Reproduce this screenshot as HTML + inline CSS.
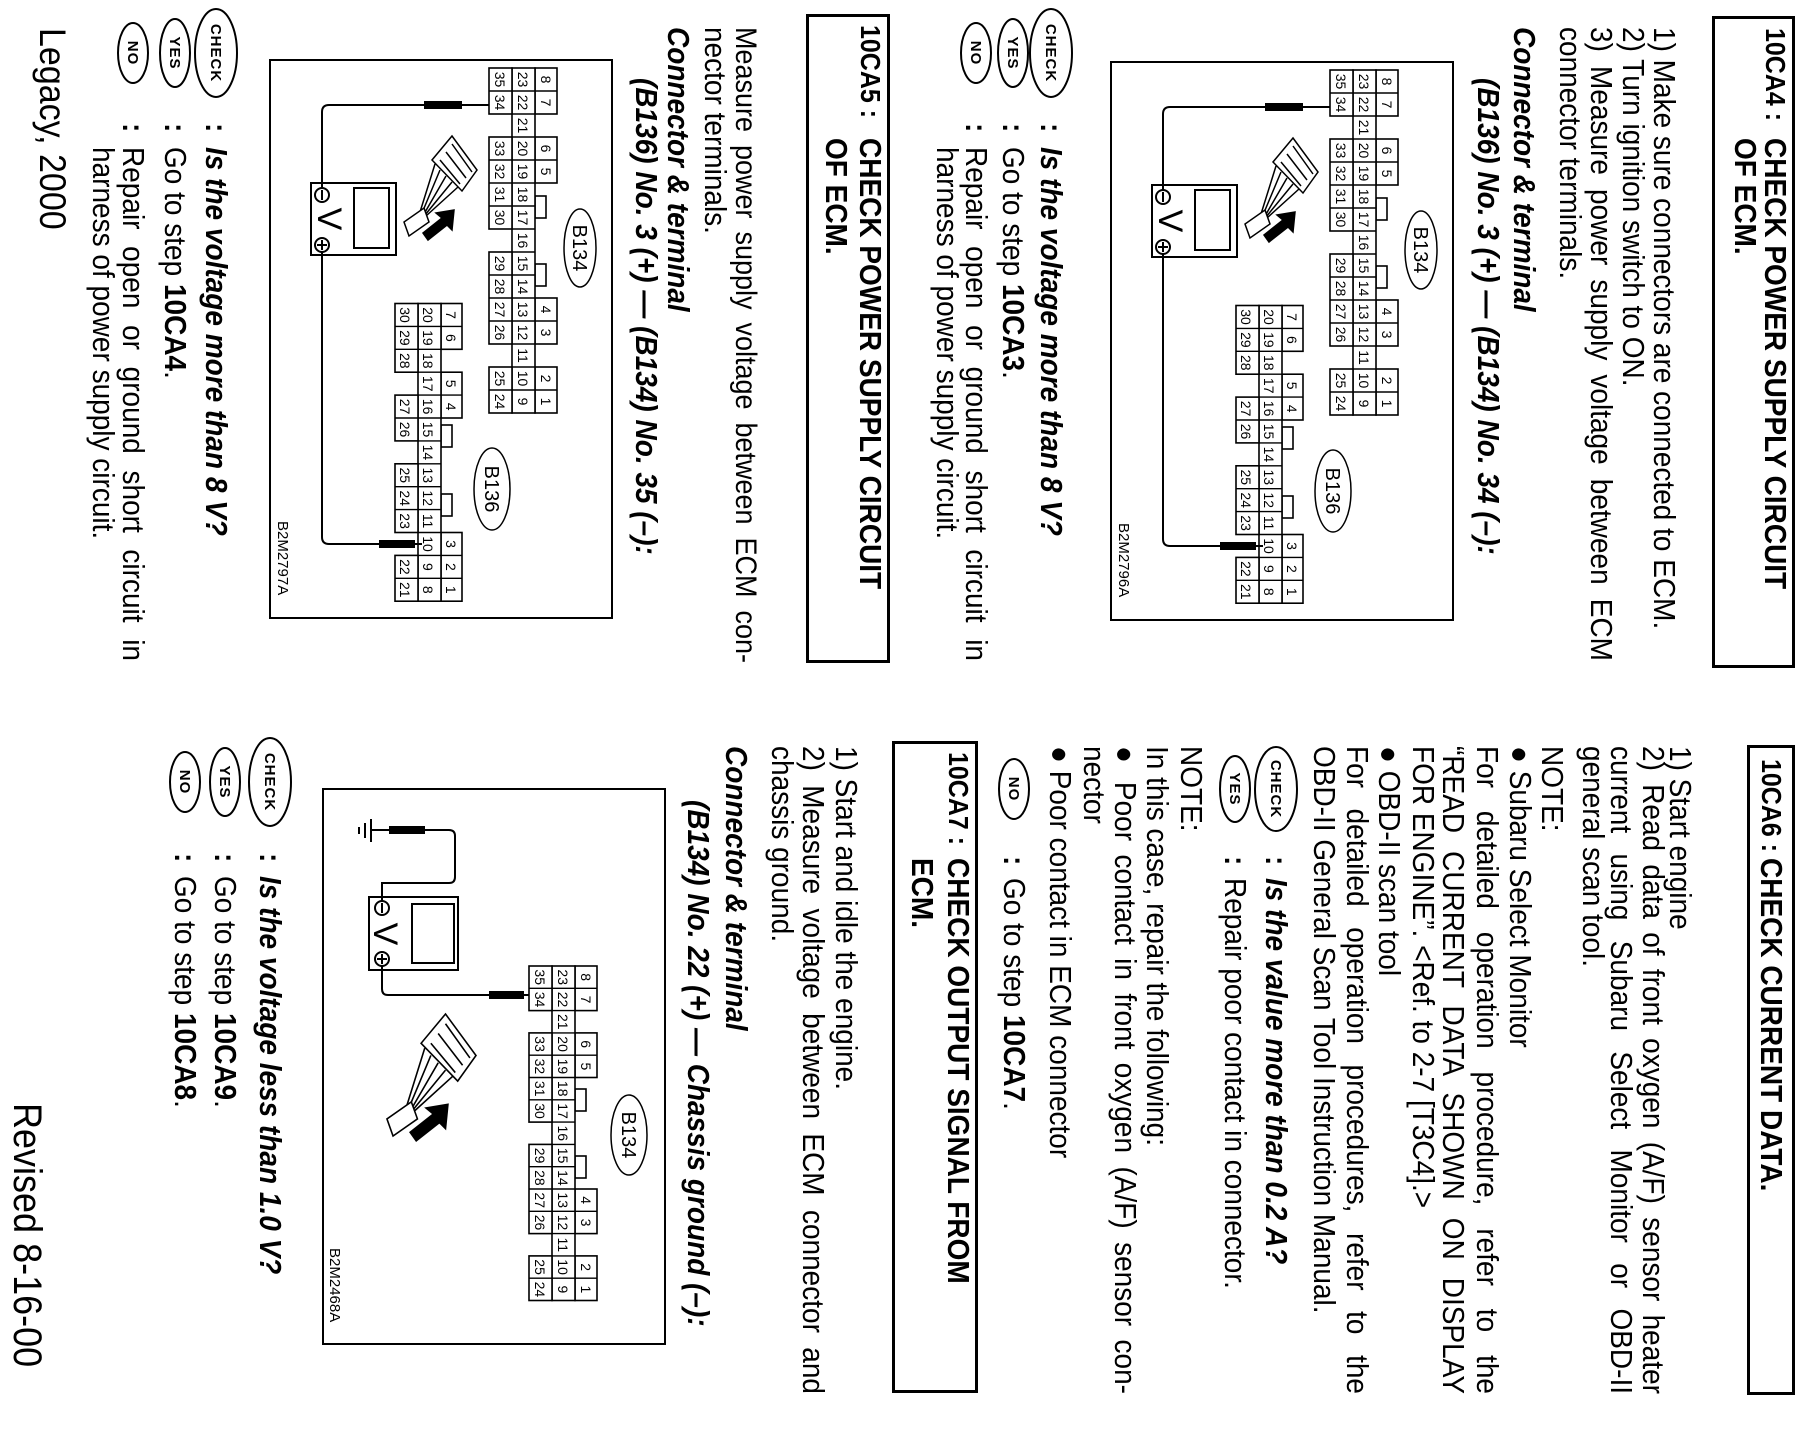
<!DOCTYPE html>
<html><head><meta charset="utf-8">
<style>
html,body{margin:0;padding:0;background:#fff;}
body{width:1808px;height:1440px;overflow:hidden;position:relative;}
#pg{position:absolute;left:0;top:0;width:1440px;height:1808px;transform-origin:0 0;transform:translate(1808px,0) rotate(90deg);background:#fff;}
.t{position:absolute;font:28px/30px "Liberation Sans",Arial,sans-serif;white-space:nowrap;color:#000;transform:scaleY(1.1);transform-origin:0 50%;}
.j{text-align:justify;text-align-last:justify;white-space:normal;height:30px;overflow:visible;}
.b{font-weight:bold;}
.bi{font-weight:bold;font-style:italic;}
.lb{font-size:25px;}
.box{position:absolute;border:3px solid #000;box-sizing:border-box;}
svg{position:absolute;left:0;top:0;}
svg text{font-family:"Liberation Sans",Arial,sans-serif;}
.c rect{fill:#fff;stroke:#000;stroke-width:1.6;}
.c path{fill:none;stroke:#000;stroke-width:1.4;}
.c text{font-size:14px;text-anchor:middle;}
</style></head><body>
<div id="pg">

<svg width="1440" height="1808" viewBox="0 0 1440 1808">
<g fill="#fff" stroke="#000" stroke-width="2" font-weight="bold" font-size="15" text-anchor="middle">
<ellipse cx="53" cy="757" rx="44" ry="21"/><text x="53" y="762" stroke="none" fill="#000" letter-spacing="1">CHECK</text>
<ellipse cx="53" cy="795" rx="34" ry="15"/><text x="53" y="800" stroke="none" fill="#000" letter-spacing="1">YES</text>
<ellipse cx="53" cy="832" rx="30" ry="15"/><text x="53" y="837" stroke="none" fill="#000" letter-spacing="1">NO</text>

<ellipse cx="53" cy="1592" rx="44" ry="21"/><text x="53" y="1597" stroke="none" fill="#000" letter-spacing="1">CHECK</text>
<ellipse cx="53" cy="1633" rx="34" ry="15"/><text x="53" y="1638" stroke="none" fill="#000" letter-spacing="1">YES</text>
<ellipse cx="53" cy="1675" rx="30" ry="15"/><text x="53" y="1680" stroke="none" fill="#000" letter-spacing="1">NO</text>

<ellipse cx="789" cy="532" rx="42" ry="21"/><text x="789" y="537" stroke="none" fill="#000" letter-spacing="1">CHECK</text>
<ellipse cx="789" cy="573" rx="33" ry="15"/><text x="789" y="578" stroke="none" fill="#000" letter-spacing="1">YES</text>
<ellipse cx="789" cy="794" rx="30" ry="15"/><text x="789" y="799" stroke="none" fill="#000" letter-spacing="1">NO</text>

<ellipse cx="782" cy="1538" rx="44" ry="21"/><text x="782" y="1543" stroke="none" fill="#000" letter-spacing="1">CHECK</text>
<ellipse cx="782" cy="1583" rx="34" ry="15"/><text x="782" y="1588" stroke="none" fill="#000" letter-spacing="1">YES</text>
<ellipse cx="782" cy="1623" rx="30" ry="15"/><text x="782" y="1628" stroke="none" fill="#000" letter-spacing="1">NO</text>
</g>

<!-- Diagram A -->
<g transform="translate(62,355)">
<rect x="0" y="0" width="558" height="342" fill="none" stroke="#000" stroke-width="2"/>
<g class="c">
<rect x="136" y="66" width="22" height="11"/><rect x="204" y="66" width="22" height="11"/>
<rect x="8" y="55" width="46" height="22"/><rect x="77" y="55" width="46" height="22"/><rect x="238" y="55" width="46" height="22"/><rect x="307" y="55" width="46" height="22"/>
<path d="M31 55v22M100 55v22M261 55v22M330 55v22"/>
<rect x="8" y="77" width="345" height="23"/>
<path d="M31 77v23M54 77v23M77 77v23M100 77v23M123 77v23M146 77v23M169 77v23M192 77v23M215 77v23M238 77v23M261 77v23M284 77v23M307 77v23M330 77v23"/>
<rect x="8" y="100" width="46" height="23"/><rect x="77" y="100" width="92" height="23"/><rect x="192" y="100" width="92" height="23"/><rect x="307" y="100" width="46" height="23"/>
<path d="M31 100v23M100 100v23M123 100v23M146 100v23M215 100v23M238 100v23M261 100v23M330 100v23"/>
<text x="19.5" y="71">8</text><text x="42.5" y="71">7</text><text x="88.5" y="71">6</text><text x="111.5" y="71">5</text><text x="249.5" y="71">4</text><text x="272.5" y="71">3</text><text x="318.5" y="71">2</text><text x="341.5" y="71">1</text>
<text x="19.5" y="94">23</text><text x="42.5" y="94">22</text><text x="65.5" y="94">21</text><text x="88.5" y="94">20</text><text x="111.5" y="94">19</text><text x="134.5" y="94">18</text><text x="157.5" y="94">17</text><text x="180.5" y="94">16</text><text x="203.5" y="94">15</text><text x="226.5" y="94">14</text><text x="249.5" y="94">13</text><text x="272.5" y="94">12</text><text x="295.5" y="94">11</text><text x="318.5" y="94">10</text><text x="341.5" y="94">9</text>
<text x="19.5" y="117">35</text><text x="42.5" y="117">34</text><text x="88.5" y="117">33</text><text x="111.5" y="117">32</text><text x="134.5" y="117">31</text><text x="157.5" y="117">30</text><text x="203.5" y="117">29</text><text x="226.5" y="117">28</text><text x="249.5" y="117">27</text><text x="272.5" y="117">26</text><text x="318.5" y="117">25</text><text x="341.5" y="117">24</text>

<rect x="365" y="160" width="22" height="11"/><rect x="434" y="160" width="22" height="11"/>
<rect x="243.5" y="150" width="45.8" height="21"/><rect x="312.2" y="150" width="45.8" height="21"/><rect x="472.5" y="150" width="68.7" height="21"/>
<path d="M266.4 150v21M335.1 150v21M495.4 150v21M518.3 150v21"/>
<rect x="243.5" y="171" width="297.7" height="23"/>
<path d="M266.4 171v23M289.3 171v23M312.2 171v23M335.1 171v23M358 171v23M380.9 171v23M403.8 171v23M426.7 171v23M449.6 171v23M472.5 171v23M495.4 171v23M518.3 171v23"/>
<rect x="243.5" y="194" width="68.7" height="23"/><rect x="335.1" y="194" width="45.8" height="23"/><rect x="403.8" y="194" width="68.7" height="23"/><rect x="495.4" y="194" width="45.8" height="23"/>
<path d="M266.4 194v23M289.3 194v23M358 194v23M426.7 194v23M449.6 194v23M518.3 194v23"/>
<text x="255" y="166">7</text><text x="277.9" y="166">6</text><text x="323.7" y="166">5</text><text x="346.6" y="166">4</text><text x="484" y="166">3</text><text x="506.9" y="166">2</text><text x="529.8" y="166">1</text>
<text x="255" y="189">20</text><text x="277.9" y="189">19</text><text x="300.8" y="189">18</text><text x="323.7" y="189">17</text><text x="346.6" y="189">16</text><text x="369.5" y="189">15</text><text x="392.4" y="189">14</text><text x="415.3" y="189">13</text><text x="438.2" y="189">12</text><text x="461.1" y="189">11</text><text x="484" y="189">10</text><text x="506.9" y="189">9</text><text x="529.8" y="189">8</text>
<text x="255" y="212">30</text><text x="277.9" y="212">29</text><text x="300.8" y="212">28</text><text x="346.6" y="212">27</text><text x="369.5" y="212">26</text><text x="415.3" y="212">25</text><text x="438.2" y="212">24</text><text x="461.1" y="212">23</text><text x="506.9" y="212">22</text><text x="529.8" y="212">21</text>
</g>
<ellipse cx="188" cy="32" rx="39" ry="16" fill="none" stroke="#000" stroke-width="1.5"/><text x="188" y="39" font-size="20" text-anchor="middle">B134</text>
<ellipse cx="429" cy="120" rx="41" ry="18" fill="none" stroke="#000" stroke-width="1.5"/><text x="429" y="127" font-size="20" text-anchor="middle">B136</text>
<g fill="none" stroke="#000" stroke-width="2">
<rect x="123" y="216" width="72" height="85"/><rect x="128" y="223" width="60" height="35"/>
<circle cx="135" cy="290" r="7"/><path d="M130 290h10"/>
<circle cx="185" cy="290" r="7"/><path d="M180 290h10M185 285v10"/>
<path d="M128 290H52Q45 290 45 283V188M45 150V123"/>
<path d="M192 290H477Q484 290 484 283V233M484 197V190"/>
</g>
<text x="159" y="294" font-size="34" text-anchor="middle">V</text>
<rect x="41" y="150" width="8" height="38" fill="#000"/>
<rect x="480" y="197" width="8" height="36" fill="#000"/>
<g fill="#fff" stroke="#000" stroke-width="1.5">
<polygon points="76,160 110,135 131,150 100,180"/>
<path d="M84 160L112 140M92 166L118 146M100 172L124 152" fill="none"/>
<path d="M104 177L152 192M110 172L153 190M116 166L154 188M122 160L155 187M127 154L156 186" fill="none"/>
<polygon points="148,188 162,183 176,203 162,208"/>
<polygon points="150,158 170,160 165,165 180,184 173,189 158,170 153,176" fill="#000"/>
</g>
<text x="461" y="334" font-size="15">B2M2796A</text>
</g>

<!-- Diagram B -->
<g transform="translate(60,1196)">
<rect x="0" y="0" width="558" height="342" fill="none" stroke="#000" stroke-width="2"/>
<g class="c">
<rect x="136" y="66" width="22" height="11"/><rect x="204" y="66" width="22" height="11"/>
<rect x="8" y="55" width="46" height="22"/><rect x="77" y="55" width="46" height="22"/><rect x="238" y="55" width="46" height="22"/><rect x="307" y="55" width="46" height="22"/>
<path d="M31 55v22M100 55v22M261 55v22M330 55v22"/>
<rect x="8" y="77" width="345" height="23"/>
<path d="M31 77v23M54 77v23M77 77v23M100 77v23M123 77v23M146 77v23M169 77v23M192 77v23M215 77v23M238 77v23M261 77v23M284 77v23M307 77v23M330 77v23"/>
<rect x="8" y="100" width="46" height="23"/><rect x="77" y="100" width="92" height="23"/><rect x="192" y="100" width="92" height="23"/><rect x="307" y="100" width="46" height="23"/>
<path d="M31 100v23M100 100v23M123 100v23M146 100v23M215 100v23M238 100v23M261 100v23M330 100v23"/>
<text x="19.5" y="71">8</text><text x="42.5" y="71">7</text><text x="88.5" y="71">6</text><text x="111.5" y="71">5</text><text x="249.5" y="71">4</text><text x="272.5" y="71">3</text><text x="318.5" y="71">2</text><text x="341.5" y="71">1</text>
<text x="19.5" y="94">23</text><text x="42.5" y="94">22</text><text x="65.5" y="94">21</text><text x="88.5" y="94">20</text><text x="111.5" y="94">19</text><text x="134.5" y="94">18</text><text x="157.5" y="94">17</text><text x="180.5" y="94">16</text><text x="203.5" y="94">15</text><text x="226.5" y="94">14</text><text x="249.5" y="94">13</text><text x="272.5" y="94">12</text><text x="295.5" y="94">11</text><text x="318.5" y="94">10</text><text x="341.5" y="94">9</text>
<text x="19.5" y="117">35</text><text x="42.5" y="117">34</text><text x="88.5" y="117">33</text><text x="111.5" y="117">32</text><text x="134.5" y="117">31</text><text x="157.5" y="117">30</text><text x="203.5" y="117">29</text><text x="226.5" y="117">28</text><text x="249.5" y="117">27</text><text x="272.5" y="117">26</text><text x="318.5" y="117">25</text><text x="341.5" y="117">24</text>

<rect x="365" y="160" width="22" height="11"/><rect x="434" y="160" width="22" height="11"/>
<rect x="243.5" y="150" width="45.8" height="21"/><rect x="312.2" y="150" width="45.8" height="21"/><rect x="472.5" y="150" width="68.7" height="21"/>
<path d="M266.4 150v21M335.1 150v21M495.4 150v21M518.3 150v21"/>
<rect x="243.5" y="171" width="297.7" height="23"/>
<path d="M266.4 171v23M289.3 171v23M312.2 171v23M335.1 171v23M358 171v23M380.9 171v23M403.8 171v23M426.7 171v23M449.6 171v23M472.5 171v23M495.4 171v23M518.3 171v23"/>
<rect x="243.5" y="194" width="68.7" height="23"/><rect x="335.1" y="194" width="45.8" height="23"/><rect x="403.8" y="194" width="68.7" height="23"/><rect x="495.4" y="194" width="45.8" height="23"/>
<path d="M266.4 194v23M289.3 194v23M358 194v23M426.7 194v23M449.6 194v23M518.3 194v23"/>
<text x="255" y="166">7</text><text x="277.9" y="166">6</text><text x="323.7" y="166">5</text><text x="346.6" y="166">4</text><text x="484" y="166">3</text><text x="506.9" y="166">2</text><text x="529.8" y="166">1</text>
<text x="255" y="189">20</text><text x="277.9" y="189">19</text><text x="300.8" y="189">18</text><text x="323.7" y="189">17</text><text x="346.6" y="189">16</text><text x="369.5" y="189">15</text><text x="392.4" y="189">14</text><text x="415.3" y="189">13</text><text x="438.2" y="189">12</text><text x="461.1" y="189">11</text><text x="484" y="189">10</text><text x="506.9" y="189">9</text><text x="529.8" y="189">8</text>
<text x="255" y="212">30</text><text x="277.9" y="212">29</text><text x="300.8" y="212">28</text><text x="346.6" y="212">27</text><text x="369.5" y="212">26</text><text x="415.3" y="212">25</text><text x="438.2" y="212">24</text><text x="461.1" y="212">23</text><text x="506.9" y="212">22</text><text x="529.8" y="212">21</text>
</g>
<ellipse cx="188" cy="32" rx="39" ry="16" fill="none" stroke="#000" stroke-width="1.5"/><text x="188" y="39" font-size="20" text-anchor="middle">B134</text>
<ellipse cx="429" cy="120" rx="41" ry="18" fill="none" stroke="#000" stroke-width="1.5"/><text x="429" y="127" font-size="20" text-anchor="middle">B136</text>
<g fill="none" stroke="#000" stroke-width="2">
<rect x="123" y="216" width="72" height="85"/><rect x="128" y="223" width="60" height="35"/>
<circle cx="135" cy="290" r="7"/><path d="M130 290h10"/>
<circle cx="185" cy="290" r="7"/><path d="M180 290h10M185 285v10"/>
<path d="M128 290H52Q45 290 45 283V188M45 150V123"/>
<path d="M192 290H477Q484 290 484 283V233M484 197V190"/>
</g>
<text x="159" y="294" font-size="34" text-anchor="middle">V</text>
<rect x="41" y="150" width="8" height="38" fill="#000"/>
<rect x="480" y="197" width="8" height="36" fill="#000"/>
<g fill="#fff" stroke="#000" stroke-width="1.5">
<polygon points="76,160 110,135 131,150 100,180"/>
<path d="M84 160L112 140M92 166L118 146M100 172L124 152" fill="none"/>
<path d="M104 177L152 192M110 172L153 190M116 166L154 188M122 160L155 187M127 154L156 186" fill="none"/>
<polygon points="148,188 162,183 176,203 162,208"/>
<polygon points="150,158 170,160 165,165 180,184 173,189 158,170 153,176" fill="#000"/>
</g>
<text x="461" y="334" font-size="15">B2M2797A</text>
</g>

<!-- Diagram C -->
<g transform="translate(789,1143)">
<rect x="0" y="0" width="555" height="342" fill="none" stroke="#000" stroke-width="2"/>
<g class="c">
<rect x="300" y="79" width="22" height="11"/><rect x="367" y="79" width="22" height="11"/>
<rect x="177" y="68" width="44.6" height="22"/><rect x="243.9" y="68" width="44.6" height="22"/><rect x="400" y="68" width="44.6" height="22"/><rect x="466.9" y="68" width="44.6" height="22"/>
<path d="M199.3 68v22M266.2 68v22M422.3 68v22M489.2 68v22"/>
<rect x="177" y="90" width="334.5" height="23"/>
<path d="M199.3 90v23M221.6 90v23M243.9 90v23M266.2 90v23M288.5 90v23M310.8 90v23M333.1 90v23M355.4 90v23M377.7 90v23M400 90v23M422.3 90v23M444.6 90v23M466.9 90v23M489.2 90v23"/>
<rect x="177" y="113" width="44.6" height="23"/><rect x="243.9" y="113" width="89.2" height="23"/><rect x="355.4" y="113" width="89.2" height="23"/><rect x="466.9" y="113" width="44.6" height="23"/>
<path d="M199.3 113v23M266.2 113v23M288.5 113v23M310.8 113v23M377.7 113v23M400 113v23M422.3 113v23M489.2 113v23"/>
<text x="188.2" y="84">8</text><text x="210.5" y="84">7</text><text x="255.1" y="84">6</text><text x="277.4" y="84">5</text><text x="411.2" y="84">4</text><text x="433.5" y="84">3</text><text x="478.1" y="84">2</text><text x="500.4" y="84">1</text>
<text x="188.2" y="107">23</text><text x="210.5" y="107">22</text><text x="232.8" y="107">21</text><text x="255.1" y="107">20</text><text x="277.4" y="107">19</text><text x="299.7" y="107">18</text><text x="322" y="107">17</text><text x="344.3" y="107">16</text><text x="366.6" y="107">15</text><text x="388.9" y="107">14</text><text x="411.2" y="107">13</text><text x="433.5" y="107">12</text><text x="455.8" y="107">11</text><text x="478.1" y="107">10</text><text x="500.4" y="107">9</text>
<text x="188.2" y="130">35</text><text x="210.5" y="130">34</text><text x="255.1" y="130">33</text><text x="277.4" y="130">32</text><text x="299.7" y="130">31</text><text x="322" y="130">30</text><text x="366.6" y="130">29</text><text x="388.9" y="130">28</text><text x="411.2" y="130">27</text><text x="433.5" y="130">26</text><text x="478.1" y="130">25</text><text x="500.4" y="130">24</text>
</g>
<ellipse cx="346" cy="36" rx="40" ry="18" fill="none" stroke="#000" stroke-width="1.5"/><text x="346" y="43" font-size="20" text-anchor="middle">B134</text>
<g fill="none" stroke="#000" stroke-width="2">
<rect x="108" y="207" width="73" height="89"/><rect x="115" y="211" width="59" height="42"/>
<circle cx="119" cy="283" r="7"/><path d="M114 283h10"/>
<circle cx="170" cy="283" r="7"/><path d="M165 283h10M170 278v10"/>
<path d="M41 240V216Q41 210 47 210H88Q94 210 94 216V283H112"/>
<path d="M177 283H200Q206 283 206 277V176M206 141V136"/>
<path d="M41 276V294M30 294H53M34 300H49M38 306H45"/>
</g>
<text x="145" y="291" font-size="34" text-anchor="middle">V</text>
<rect x="37" y="240" width="8" height="36" fill="#000"/>
<rect x="202" y="141" width="8" height="35" fill="#000"/>
<g transform="translate(225,189) scale(1.22) translate(-76,-135)" fill="#fff" stroke="#000" stroke-width="1.3">
<polygon points="76,160 110,135 131,150 100,180"/>
<path d="M84 160L112 140M92 166L118 146M100 172L124 152" fill="none"/>
<path d="M104 177L152 192M110 172L153 190M116 166L154 188M122 160L155 187M127 154L156 186" fill="none"/>
<polygon points="148,188 162,183 176,203 162,208"/>
<polygon points="150,158 170,160 165,165 180,184 173,189 158,170 153,176" fill="#000"/>
</g>
<text x="459" y="335" font-size="15">B2M2468A</text>
</g>
</svg>

<!-- LEFT COLUMN -->
<div class="box" style="left:16px;top:13px;width:652px;height:83px"></div>
<div class="t b lb" style="left:28px;top:18px">10CA4 :</div>
<div class="t b" style="left:138px;top:18px">CHECK POWER SUPPLY CIRCUIT</div>
<div class="t b" style="left:138px;top:48px">OF ECM.</div>
<div class="t" style="left:27px;top:129px">1) Make sure connectors are connected to ECM.</div>
<div class="t" style="left:27px;top:160px">2) Turn ignition switch to ON.</div>
<div class="t j" style="left:27px;top:192px;width:634px">3) Measure power supply voltage between ECM</div>
<div class="t" style="left:27px;top:223px">connector terminals.</div>
<div class="t bi" style="left:27px;top:269px">Connector &amp; terminal</div>
<div class="t bi" style="left:78px;top:305px">(B136) No. 3 (+) — (B134) No. 34 (–):</div>
<div class="t b" style="left:123px;top:742px">:</div>
<div class="t bi" style="left:147px;top:742px">Is the voltage more than 8 V?</div>
<div class="t b" style="left:123px;top:780px">:</div>
<div class="t" style="left:147px;top:780px">Go to step <b>10CA3</b>.</div>
<div class="t b" style="left:123px;top:817px">:</div>
<div class="t j" style="left:147px;top:817px;width:514px">Repair open or ground short circuit in</div>
<div class="t" style="left:147px;top:846px">harness of power supply circuit.</div>

<div class="box" style="left:14px;top:918px;width:649px;height:84px"></div>
<div class="t b lb" style="left:25px;top:923px">10CA5 :</div>
<div class="t b" style="left:138px;top:923px">CHECK POWER SUPPLY CIRCUIT</div>
<div class="t b" style="left:138px;top:957px">OF ECM.</div>
<div class="t j" style="left:27px;top:1047px;width:636px;font-size:27px">Measure power supply voltage between ECM con-</div>
<div class="t" style="left:27px;top:1078px">nector terminals.</div>
<div class="t bi" style="left:27px;top:1115px">Connector &amp; terminal</div>
<div class="t bi" style="left:78px;top:1147px">(B136) No. 3 (+) — (B134) No. 35 (–):</div>
<div class="t b" style="left:123px;top:1577px">:</div>
<div class="t bi" style="left:147px;top:1577px">Is the voltage more than 8 V?</div>
<div class="t b" style="left:123px;top:1618px">:</div>
<div class="t" style="left:147px;top:1618px">Go to step <b>10CA4</b>.</div>
<div class="t b" style="left:123px;top:1660px">:</div>
<div class="t j" style="left:147px;top:1660px;width:514px">Repair open or ground short circuit in</div>
<div class="t" style="left:147px;top:1690px">harness of power supply circuit.</div>
<div class="t" style="left:28px;top:1739px;font-size:34px;line-height:34px">Legacy, 2000</div>

<!-- RIGHT COLUMN -->
<div class="box" style="left:745px;top:13px;width:650px;height:48px"></div>
<div class="t b lb" style="left:759px;top:22px">10CA6 :</div>
<div class="t b" style="left:858px;top:22px">CHECK CURRENT DATA.</div>
<div class="t" style="left:746px;top:113px">1) Start engine</div>
<div class="t j" style="left:746px;top:140px;width:648px">2) Read data of front oxygen (A/F) sensor heater</div>
<div class="t j" style="left:746px;top:172px;width:648px">current using Subaru Select Monitor or OBD-II</div>
<div class="t" style="left:746px;top:200px">general scan tool.</div>
<div class="t" style="left:746px;top:241px">NOTE:</div>
<div class="t" style="left:746px;top:273px">● Subaru Select Monitor</div>
<div class="t j" style="left:746px;top:306px;width:648px">For detailed operation procedure, refer to the</div>
<div class="t j" style="left:746px;top:340px;width:648px">“READ CURRENT DATA SHOWN ON DISPLAY</div>
<div class="t" style="left:746px;top:370px">FOR ENGINE”. &lt;Ref. to 2-7 [T3C4].&gt;</div>
<div class="t" style="left:746px;top:404px">● OBD-II scan tool</div>
<div class="t j" style="left:746px;top:436px;width:648px">For detailed operation procedures, refer to the</div>
<div class="t" style="left:746px;top:469px">OBD-II General Scan Tool Instruction Manual.</div>
<div class="t b" style="left:856px;top:517px">:</div>
<div class="t bi" style="left:878px;top:517px">Is the value more than 0.2 A?</div>
<div class="t b" style="left:856px;top:558px">:</div>
<div class="t" style="left:878px;top:558px">Repair poor contact in connector.</div>
<div class="t" style="left:746px;top:602px">NOTE:</div>
<div class="t" style="left:746px;top:636px">In this case, repair the following:</div>
<div class="t j" style="left:746px;top:668px;width:648px">● Poor contact in front oxygen (A/F) sensor con-</div>
<div class="t" style="left:746px;top:699px">nector</div>
<div class="t" style="left:746px;top:733px">● Poor contact in ECM connector</div>
<div class="t b" style="left:856px;top:779px">:</div>
<div class="t" style="left:878px;top:779px">Go to step <b>10CA7</b>.</div>

<div class="box" style="left:741px;top:830px;width:652px;height:86px"></div>
<div class="t b lb" style="left:752px;top:835px">10CA7 :</div>
<div class="t b" style="left:858px;top:835px">CHECK OUTPUT SIGNAL FROM</div>
<div class="t b" style="left:858px;top:871px">ECM.</div>
<div class="t" style="left:746px;top:947px">1) Start and idle the engine.</div>
<div class="t j" style="left:746px;top:980px;width:648px">2) Measure voltage between ECM connector and</div>
<div class="t" style="left:746px;top:1011px">chassis ground.</div>
<div class="t bi" style="left:746px;top:1057px">Connector &amp; terminal</div>
<div class="t bi" style="left:800px;top:1095px">(B134) No. 22 (+) — Chassis ground (–):</div>
<div class="t b" style="left:853px;top:1523px">:</div>
<div class="t bi" style="left:876px;top:1523px">Is the voltage less than 1.0 V?</div>
<div class="t b" style="left:853px;top:1568px">:</div>
<div class="t" style="left:876px;top:1568px">Go to step <b>10CA9</b>.</div>
<div class="t b" style="left:853px;top:1608px">:</div>
<div class="t" style="left:876px;top:1608px">Go to step <b>10CA8</b>.</div>
<div class="t" style="left:1103px;top:1763px;font-size:36px;line-height:36px">Revised 8-16-00</div>

</div>
</body></html>
